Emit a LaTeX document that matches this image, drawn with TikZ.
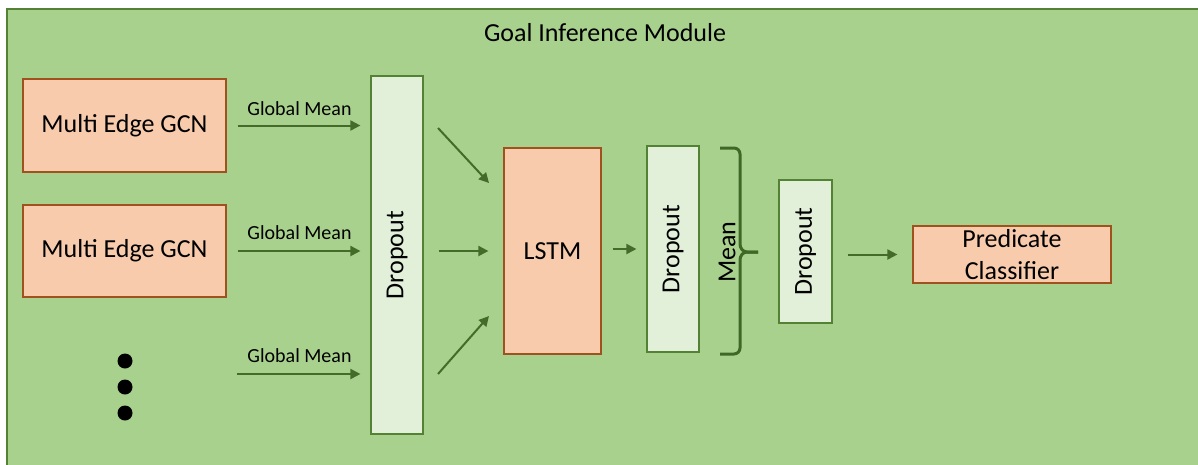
\documentclass[tikz,border=0pt]{standalone}
\usepackage{fontspec}
\setmainfont{Carlito}
\usetikzlibrary{arrows.meta}
\definecolor{bgfill}{HTML}{A9D18E}
\definecolor{bgline}{HTML}{548235}
\definecolor{dropfill}{HTML}{E2F0D9}
\definecolor{orfill}{HTML}{F8CBAD}
\definecolor{orline}{HTML}{A0521E}
\definecolor{arr}{HTML}{446B2A}
\definecolor{brc}{HTML}{3F6826}
\begin{document}
\begin{tikzpicture}[x=1pt,y=-1pt,
  big/.style={font=\fontsize{26}{32}\selectfont},
  small/.style={font=\fontsize{20}{24}\selectfont},
  orbox/.style={draw=orline,fill=orfill,line width=1.2pt,inner sep=0pt,big,align=center},
  dropbox/.style={draw=bgline,fill=dropfill,line width=1.2pt,inner sep=0pt},
  conn/.style={draw=arr,line width=2pt,-{Triangle[length=10pt,width=10pt]}},
  dotnode/.style={circle,fill=black,minimum size=15pt,inner sep=0pt},
]
\useasboundingbox (0,0) rectangle (1198,464);
\clip (0,0) rectangle (1198,464);
\draw[draw=bgline,fill=bgfill,line width=2pt] (7,9) rectangle (1215,480);
\node[big,anchor=base] (title) at (605,41) {Goal Inference Module};

\node[orbox,minimum width=203pt,minimum height=93pt] (gcn1) at (124.5,125.5) {Multi Edge GCN};
\node[orbox,minimum width=203pt,minimum height=92pt] (gcn2) at (124.5,251) {Multi Edge GCN};
\node[dotnode] (dot1) at (125,361) {};
\node[dotnode] (dot2) at (125,387) {};
\node[dotnode] (dot3) at (125,413) {};

\node[dropbox,minimum width=52pt,minimum height=358pt] (drop1) at (397,255) {};
\node[big,rotate=90] (drop1t) at (drop1.center) {Dropout};

\node[orbox,minimum width=97pt,minimum height=206pt] (lstm) at (552.5,251) {LSTM};

\node[dropbox,minimum width=52pt,minimum height=206pt] (drop2) at (673,249) {};
\node[big,rotate=90] (drop2t) at (drop2.center) {Dropout};

\node[dropbox,minimum width=53pt,minimum height=143pt] (drop3) at (805.5,251.5) {};
\node[big,rotate=90] (drop3t) at (drop3.center) {Dropout};

\node[orbox,minimum width=198pt,minimum height=57pt] (pred) at (1012,254.5) {Predicate\\Classifier};

% Global mean arrows
\coordinate (c3) at (226,374);
\draw[conn,shorten <=11pt,shorten >=10pt] (gcn1.east) -- (gcn1.east -| drop1.west);
\draw[conn,shorten <=11pt,shorten >=10pt] (gcn2.east) -- (gcn2.east -| drop1.west);
\draw[conn,shorten <=11pt,shorten >=10pt] (c3) -- (c3 -| drop1.west);
\node[small,anchor=base] (gm1) at (299.5,115) {Global Mean};
\node[small,anchor=base] (gm2) at (299.5,239) {Global Mean};
\node[small,anchor=base] (gm3) at (299.5,362) {Global Mean};

% into LSTM
\coordinate (a1) at (438,128);
\coordinate (b1) at (489,183);
\coordinate (a3) at (438,374);
\coordinate (b3) at (489,316);
\draw[conn] (a1) -- (b1);
\draw[conn,shorten <=15pt,shorten >=15pt] (drop1.east |- lstm.west) -- (lstm.west);
\draw[conn] (a3) -- (b3);

% LSTM -> dropout2
\draw[conn,shorten <=11pt,shorten >=10pt] (drop2.west -| lstm.east) -- (drop2.west);

% brace
\coordinate (br1) at (720,148);
\coordinate (br2) at (720,354);
\coordinate (brtip) at (758,252);
\draw[brc,line width=3pt,line join=round]
  (br1) -- (734,148) to[out=0,in=90] (740,154) -- (740,244)
  to[out=-90,in=180] (747,252) -- (brtip);
\draw[brc,line width=3pt,line join=round]
  (br2) -- (734,354) to[out=0,in=-90] (740,348) -- (740,260)
  to[out=90,in=180] (747,252) -- (brtip);
\node[big,rotate=90] (mean) at (727,252) {Mean};

% dropout3 -> predicate
\draw[conn,shorten <=15pt,shorten >=15pt] (pred.west -| drop3.east) -- (pred.west);
\end{tikzpicture}
\end{document}
